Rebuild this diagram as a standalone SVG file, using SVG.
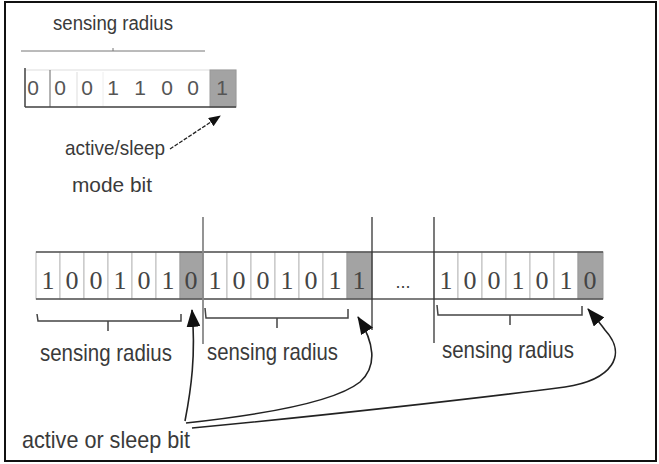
<svg xmlns="http://www.w3.org/2000/svg" width="659" height="464" viewBox="0 0 659 464">
<defs>
<marker id="ah" markerUnits="userSpaceOnUse" markerWidth="18" markerHeight="14" viewBox="0 0 18 14" refX="17" refY="7" orient="auto">
<path d="M0,0 L18,7 L0,14 Z" fill="#111"/>
</marker>
<marker id="ahs" markerUnits="userSpaceOnUse" markerWidth="12" markerHeight="10" viewBox="0 0 12 10" refX="11" refY="5" orient="auto">
<path d="M0,0 L12,5 L0,10 Z" fill="#111"/>
</marker>
</defs>
<style>
.t{font-family:"Liberation Sans",Arial,sans-serif;fill:#3a3a3a}
.d{font-family:"Liberation Sans",Arial,sans-serif;fill:#555;font-size:21px;text-anchor:middle}
.s{font-family:"Liberation Serif","Times New Roman",serif;fill:#444;font-size:26px;text-anchor:middle}
.cell{fill:#fff;stroke:#bbb;stroke-width:1}
.gray{fill:#a3a3a3;stroke:#999;stroke-width:1}
.ln{fill:none;stroke:#444;stroke-width:1.5}
.cv{fill:none;stroke:#222;stroke-width:1.6}
</style>
<rect x="5" y="2" width="651" height="459" fill="#fff" stroke="#111" stroke-width="2"/>

<g id="top-register">
<text class="t" x="53" y="30" font-size="20" textLength="120" lengthAdjust="spacingAndGlyphs">sensing  radius</text>
<line x1="21" y1="51" x2="205" y2="51" stroke="#777" stroke-width="1"/>
<line x1="113" y1="48" x2="113" y2="51" stroke="#777" stroke-width="1"/>
<rect x="25" y="70" width="211" height="37" fill="#fff" stroke="#ddd"/>
<line x1="77" y1="72" x2="77" y2="107" stroke="#ddd"/>
<line x1="103" y1="72" x2="103" y2="107" stroke="#eee"/>
<rect class="gray" x="210" y="70" width="26" height="37"/>
<line x1="25" y1="68" x2="25" y2="107" stroke="#444" stroke-width="1.5"/>
<line x1="50" y1="70" x2="50" y2="107" stroke="#666" stroke-width="1"/>
<line x1="25" y1="107" x2="236" y2="107" stroke="#444" stroke-width="1.5"/>
<text class="d" x="33" y="95">0</text>
<text class="d" x="60" y="95">0</text>
<text class="d" x="87" y="95">0</text>
<text class="d" x="113" y="95">1</text>
<text class="d" x="140" y="95">1</text>
<text class="d" x="167" y="95">0</text>
<text class="d" x="193" y="95">0</text>
<text class="d" x="222" y="95">1</text>
</g>

<g id="top-label">
<text class="t" x="65" y="155" font-size="21" textLength="100" lengthAdjust="spacingAndGlyphs">active/sleep</text>
<text class="t" x="72" y="192" font-size="21" textLength="80" lengthAdjust="spacingAndGlyphs">mode bit</text>
</g>

<g id="bottom-register">
<g id="group1">
<rect class="cell" x="36" y="252" width="24" height="47"/>
<rect class="cell" x="60" y="252" width="24" height="47"/>
<rect class="cell" x="84" y="252" width="24" height="47"/>
<rect class="cell" x="108" y="252" width="24" height="47"/>
<rect class="cell" x="132" y="252" width="24" height="47"/>
<rect class="cell" x="156" y="252" width="24" height="47"/>
<rect class="gray" x="180" y="252" width="23" height="47"/>
<text class="s" x="48" y="289">1</text>
<text class="s" x="72" y="289">0</text>
<text class="s" x="96" y="289">0</text>
<text class="s" x="120" y="289">1</text>
<text class="s" x="144" y="289">0</text>
<text class="s" x="168" y="289">1</text>
<text class="s" x="191" y="289">0</text>
</g>
<g id="group2">
<rect class="cell" x="203" y="252" width="24" height="47"/>
<rect class="cell" x="227" y="252" width="24" height="47"/>
<rect class="cell" x="251" y="252" width="24" height="47"/>
<rect class="cell" x="275" y="252" width="24" height="47"/>
<rect class="cell" x="299" y="252" width="24" height="47"/>
<rect class="cell" x="323" y="252" width="24" height="47"/>
<rect class="gray" x="347" y="252" width="25" height="47"/>
<text class="s" x="215" y="289">1</text>
<text class="s" x="239" y="289">0</text>
<text class="s" x="263" y="289">0</text>
<text class="s" x="287" y="289">1</text>
<text class="s" x="311" y="289">0</text>
<text class="s" x="335" y="289">1</text>
<text class="s" x="359" y="289">1</text>
</g>
<g id="ellipsis">
<text class="t" x="403" y="288" font-size="18" text-anchor="middle" fill="#777">...</text>
</g>
<g id="group3">
<rect class="cell" x="434" y="252" width="24" height="47"/>
<rect class="cell" x="458" y="252" width="24" height="47"/>
<rect class="cell" x="482" y="252" width="24" height="47"/>
<rect class="cell" x="506" y="252" width="24" height="47"/>
<rect class="cell" x="530" y="252" width="24" height="47"/>
<rect class="cell" x="554" y="252" width="24" height="47"/>
<rect class="gray" x="578" y="252" width="25" height="47"/>
<text class="s" x="446" y="289">1</text>
<text class="s" x="470" y="289">0</text>
<text class="s" x="494" y="289">0</text>
<text class="s" x="518" y="289">1</text>
<text class="s" x="542" y="289">0</text>
<text class="s" x="566" y="289">1</text>
<text class="s" x="590" y="289">0</text>
</g>
<line x1="36" y1="252" x2="603" y2="252" stroke="#555" stroke-width="1.3"/>
<line x1="36" y1="299" x2="603" y2="299" stroke="#555" stroke-width="1.3"/>
<line x1="203" y1="217" x2="203" y2="344" stroke="#888" stroke-width="1.8"/>
<line x1="372" y1="217" x2="372" y2="330" stroke="#333" stroke-width="1.3"/>
<line x1="434" y1="217" x2="434" y2="343" stroke="#333" stroke-width="1.3"/>
</g>

<g id="braces">
<path class="ln" d="M37,314 L38,321 L181,321 L181,314 M108,321 L108,331"/>
<path class="ln" d="M205,308 L206,318 L348,318 L348,309 M277,318 L277,328"/>
<path class="ln" d="M437,305 L438,315 L582,315 L582,306 M510,315 L510,325"/>
</g>

<g id="labels">
<text class="t" x="40" y="361" font-size="24" textLength="132" lengthAdjust="spacingAndGlyphs">sensing radius</text>
<text class="t" x="207" y="360" font-size="24" textLength="131" lengthAdjust="spacingAndGlyphs">sensing radius</text>
<text class="t" x="442" y="358" font-size="24" textLength="132" lengthAdjust="spacingAndGlyphs">sensing radius</text>
<text class="t" x="22" y="448" font-size="24" textLength="168" lengthAdjust="spacingAndGlyphs">active or sleep bit</text>
</g>

<g id="connectors">
<path d="M170,149 L220,116" fill="none" stroke="#222" stroke-width="1.3" stroke-dasharray="4,1.5" marker-end="url(#ahs)"/>
<path class="cv" d="M185,421 C191,390 196,355 192,310" marker-end="url(#ah)"/>
<path class="cv" d="M186,423 C260,415 335,402 360,382 C378,366 374,342 358,317" marker-end="url(#ah)"/>
<path class="cv" d="M192,428 C320,416 480,398 565,387 C612,380 628,355 605,330 C600,323 594,316 588,309" marker-end="url(#ah)"/>
</g>
</svg>
